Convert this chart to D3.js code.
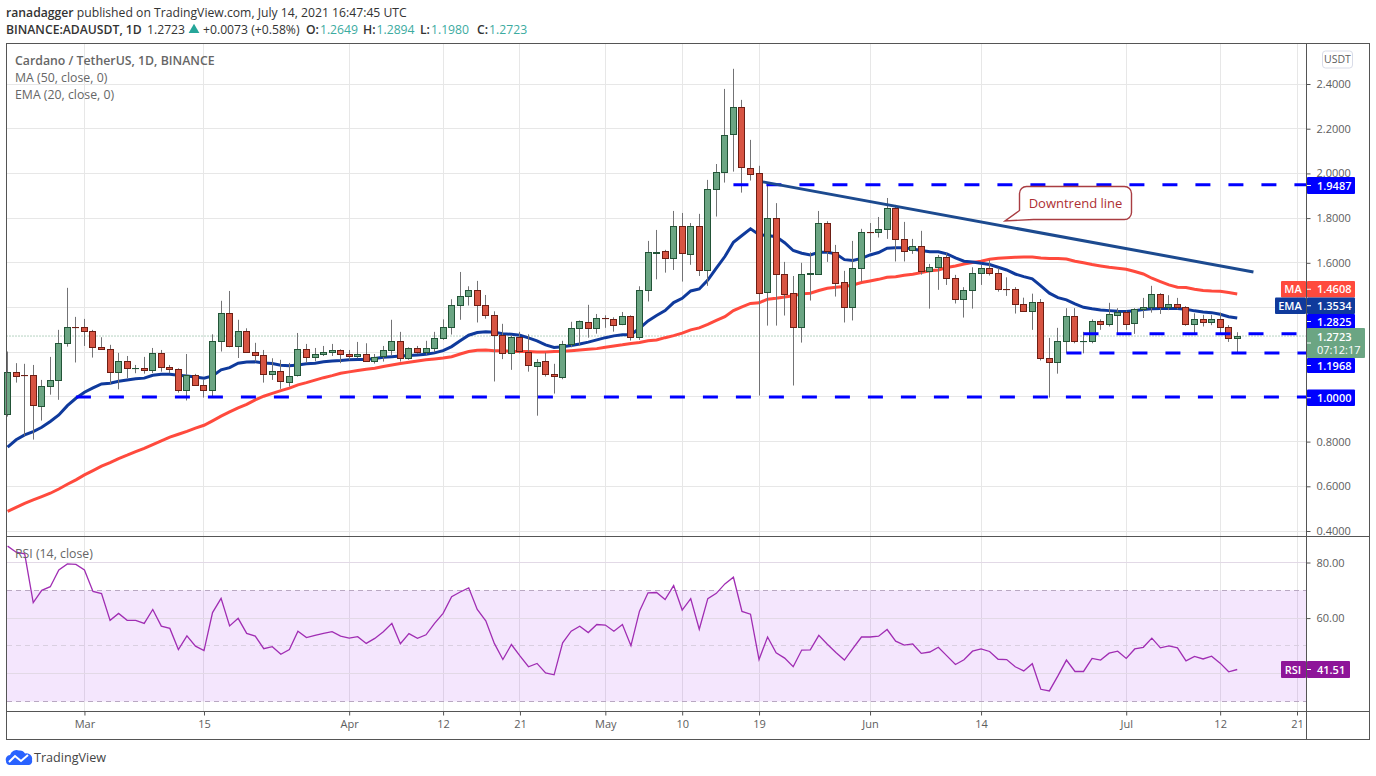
<!DOCTYPE html>
<html>
<head>
<meta charset="utf-8">
<script src="https://cdn.jsdelivr.net/npm/d3@7"></script>
<style>
  html, body { margin: 0; background: #fff; }
  svg { display: block; }
  text { font-family: "Open Sans", sans-serif; }
</style>
</head>
<body>
<svg id="chart" width="1376" height="776"></svg>
<script>
// daily candles, first one is Feb 20 2021, last one Jul 14 2021
const firstDay = "2021-02-20";
const opens = [0.927,1.113,1.097,1.097,0.958,1.048,1.075,1.240,1.312,1.312,1.294,1.222,1.213,1.109,1.160,1.128,1.128,1.119,1.195,1.133,
  1.124,1.030,1.097,1.052,1.030,1.249,1.374,1.227,1.294,1.200,1.186,1.101,1.115,1.066,1.097,1.213,1.177,1.189,1.200,1.209,
  1.191,1.180,1.191,1.160,1.180,1.209,1.249,1.173,1.218,1.200,1.218,1.262,1.312,1.410,1.450,1.477,1.410,1.365,1.276,1.195,
  1.267,1.200,1.142,1.160,1.101,1.087,1.236,1.307,1.334,1.307,1.352,1.350,1.325,1.361,1.267,1.477,1.647,1.652,1.620,1.764,
  1.637,1.764,1.565,1.929,2.005,2.174,2.296,2.026,2.001,1.468,1.799,1.549,1.464,1.312,1.549,1.549,1.777,1.650,1.513,1.401,
  1.576,1.737,1.737,1.750,1.844,1.705,1.656,1.674,1.562,1.580,1.625,1.531,1.437,1.477,1.553,1.576,1.553,1.482,1.482,1.415,
  1.383,1.424,1.173,1.155,1.249,1.361,1.249,1.249,1.339,1.325,1.370,1.382,1.330,1.392,1.400,1.459,1.401,1.415,1.401,1.325,
  1.347,1.334,1.347,1.312,1.2649];
const highs = [1.203,1.151,1.148,1.143,1.076,1.179,1.300,1.488,1.358,1.349,1.300,1.267,1.233,1.197,1.183,1.143,1.179,1.219,1.210,1.143,
  1.128,1.192,1.103,1.079,1.280,1.430,1.474,1.345,1.307,1.242,1.210,1.173,1.166,1.152,1.286,1.237,1.219,1.228,1.237,1.213,
  1.210,1.246,1.240,1.192,1.228,1.345,1.291,1.222,1.228,1.251,1.291,1.347,1.437,1.559,1.495,1.519,1.456,1.383,1.327,1.276,
  1.291,1.280,1.169,1.198,1.148,1.251,1.336,1.342,1.412,1.371,1.365,1.356,1.380,1.365,1.495,1.698,1.747,1.658,1.832,1.823,
  1.778,1.819,1.971,2.042,2.378,2.468,2.329,2.150,2.034,1.956,1.867,1.604,1.541,1.600,1.647,1.832,1.786,1.680,1.564,1.698,
  1.752,1.778,1.805,1.890,1.859,1.783,1.707,1.743,1.595,1.635,1.643,1.546,1.491,1.580,1.591,1.613,1.576,1.535,1.491,1.444,
  1.462,1.438,1.264,1.309,1.397,1.397,1.291,1.347,1.347,1.421,1.397,1.386,1.397,1.443,1.497,1.464,1.455,1.443,1.406,1.374,
  1.367,1.367,1.377,1.321,1.2894];
const lows = [0.912,1.064,0.826,0.809,0.894,1.010,0.987,1.225,1.154,1.228,1.176,1.210,1.058,1.034,1.084,1.106,1.104,1.107,1.113,1.106,
  1.019,0.984,1.049,0.997,0.997,1.203,1.222,1.174,1.200,1.158,1.064,1.076,1.036,1.046,1.091,1.151,1.160,1.183,1.183,1.151,
  1.166,1.173,1.158,1.149,1.158,1.185,1.158,1.166,1.192,1.188,1.200,1.255,1.279,1.345,1.409,1.333,1.350,1.069,1.169,1.121,
  1.195,1.113,0.916,1.091,1.015,1.079,1.222,1.230,1.265,1.283,1.309,1.292,1.321,1.252,1.255,1.427,1.526,1.556,1.568,1.516,
  1.591,1.541,1.497,1.807,1.959,2.008,1.914,1.968,1.006,1.319,1.319,1.364,1.051,1.243,1.431,1.546,1.604,1.449,1.333,1.342,
  1.516,1.649,1.713,1.707,1.606,1.606,1.640,1.547,1.395,1.479,1.501,1.418,1.355,1.395,1.501,1.543,1.471,1.452,1.373,1.382,
  1.300,1.163,0.997,1.104,1.195,1.240,1.195,1.240,1.300,1.315,1.282,1.300,1.282,1.353,1.377,1.371,1.388,1.392,1.318,1.282,
  1.315,1.321,1.285,1.246,1.1980];
const closes = [1.113,1.097,1.095,0.963,1.048,1.075,1.240,1.312,1.310,1.294,1.222,1.213,1.109,1.160,1.128,1.130,1.119,1.195,1.133,1.124,
  1.030,1.097,1.052,1.030,1.249,1.374,1.227,1.294,1.200,1.186,1.101,1.115,1.070,1.092,1.213,1.177,1.191,1.200,1.209,1.191,
  1.180,1.191,1.160,1.180,1.209,1.249,1.173,1.218,1.200,1.218,1.262,1.312,1.410,1.450,1.477,1.410,1.365,1.276,1.195,1.267,
  1.204,1.142,1.158,1.101,1.092,1.236,1.307,1.339,1.307,1.352,1.350,1.325,1.361,1.268,1.477,1.647,1.650,1.619,1.764,1.643,
  1.764,1.565,1.929,2.005,2.171,2.296,2.026,2.001,1.464,1.799,1.549,1.459,1.312,1.549,1.553,1.777,1.650,1.513,1.401,1.576,
  1.737,1.735,1.750,1.844,1.705,1.652,1.674,1.562,1.580,1.625,1.531,1.437,1.477,1.553,1.576,1.553,1.482,1.480,1.415,1.383,
  1.424,1.173,1.155,1.249,1.361,1.249,1.251,1.339,1.325,1.370,1.382,1.330,1.392,1.401,1.459,1.400,1.415,1.401,1.327,1.347,
  1.334,1.347,1.312,1.262,1.2723];

const ema20 = [0.775,0.808,0.830,0.845,0.864,0.890,0.919,0.961,0.994,1.021,1.040,1.058,1.061,1.070,1.076,1.081,1.084,1.097,1.101,1.101,
  1.097,1.094,1.089,1.084,1.094,1.121,1.131,1.151,1.156,1.157,1.152,1.149,1.142,1.139,1.143,1.148,1.151,1.157,1.161,1.163,
  1.166,1.167,1.167,1.172,1.177,1.180,1.183,1.185,1.188,1.191,1.197,1.207,1.225,1.251,1.276,1.288,1.292,1.289,1.283,1.280,
  1.276,1.264,1.251,1.233,1.221,1.224,1.230,1.237,1.245,1.255,1.265,1.273,1.278,1.278,1.307,1.340,1.364,1.386,1.422,1.441,
  1.474,1.483,1.523,1.576,1.628,1.692,1.722,1.752,1.726,1.722,1.717,1.690,1.655,1.643,1.635,1.647,1.647,1.640,1.614,1.610,
  1.620,1.635,1.646,1.665,1.667,1.667,1.662,1.655,1.649,1.649,1.640,1.622,1.607,1.604,1.598,1.592,1.580,1.568,1.550,1.538,
  1.528,1.497,1.464,1.444,1.434,1.416,1.401,1.394,1.389,1.386,1.383,1.382,1.385,1.391,1.394,1.395,1.395,1.395,1.392,1.385,
  1.380,1.377,1.370,1.359,1.3534];
const ma50 = [0.488,0.506,0.524,0.539,0.554,0.569,0.588,0.609,0.629,0.651,0.670,0.690,0.706,0.724,0.739,0.755,0.770,0.787,0.803,0.820,
  0.833,0.846,0.860,0.873,0.893,0.914,0.933,0.951,0.967,0.987,1.003,1.016,1.028,1.039,1.054,1.064,1.075,1.086,1.095,1.106,
  1.112,1.118,1.124,1.128,1.136,1.143,1.149,1.155,1.161,1.166,1.170,1.174,1.180,1.192,1.203,1.209,1.210,1.207,1.206,1.204,
  1.203,1.203,1.201,1.201,1.203,1.204,1.207,1.210,1.213,1.216,1.222,1.228,1.233,1.239,1.243,1.251,1.255,1.265,1.274,1.285,
  1.300,1.309,1.325,1.342,1.359,1.386,1.403,1.418,1.421,1.437,1.441,1.447,1.453,1.461,1.464,1.476,1.486,1.491,1.494,1.501,
  1.512,1.519,1.526,1.535,1.538,1.544,1.549,1.556,1.564,1.568,1.579,1.586,1.595,1.601,1.607,1.616,1.620,1.623,1.625,1.626,
  1.626,1.622,1.619,1.619,1.617,1.607,1.600,1.592,1.586,1.580,1.576,1.571,1.561,1.550,1.531,1.516,1.501,1.491,1.489,1.482,
  1.476,1.474,1.473,1.467,1.4608];
const rsi14 = [85.9,83.7,83.1,65.6,70.0,71.3,77.3,79.5,79.3,77.3,69.6,68.8,59.2,61.7,59.2,59.2,58.1,63.1,57.1,56.3,
  48.7,53.6,49.9,48.3,62.0,67.1,57.2,59.9,54.5,53.5,49.0,49.7,47.0,48.7,55.3,53.0,53.8,54.5,55.1,53.5,
  52.8,53.3,50.9,52.7,55.1,58.1,50.8,54.4,52.7,54.0,58.1,61.7,67.7,69.4,70.9,63.1,59.0,50.9,45.1,50.5,
  46.4,42.5,43.7,40.3,39.6,51.1,55.3,57.1,54.8,57.7,57.5,55.3,57.7,50.1,62.5,69.1,69.2,66.7,71.7,62.9,
  67.0,56.0,67.0,68.9,72.3,74.7,62.4,61.4,45.1,53.2,47.5,45.6,42.5,48.5,48.6,53.8,50.6,47.6,44.9,49.1,
  53.2,53.2,53.5,55.9,51.7,50.3,50.7,47.3,47.8,49.5,46.4,43.3,45.0,48.1,48.9,48.0,45.2,45.1,42.5,41.0,
  43.6,34.4,33.8,39.2,44.9,40.8,40.8,45.5,44.9,47.4,48.1,45.5,48.9,49.5,52.8,49.3,50.0,49.3,44.6,46.2,
  45.3,46.3,43.8,40.7,41.51];

const priceTicks = [0.4,0.6,0.8,1.0,1.2,1.4,1.6,1.8,2.0,2.2,2.4];
// these tick labels sit behind the price tags in the reference
const hiddenPriceLabels = [1.0,1.2,1.4];
const rsiTicks = [40,60,80];
const rsiBands = [30,50,70];
const dateTicks = ["2021-03-01","2021-03-15","2021-04-01","2021-04-12","2021-04-21","2021-05-01","2021-05-10","2021-05-19","2021-06-01","2021-06-14","2021-07-01","2021-07-12","2021-07-21"];
const dateLabels = ["Mar","15","Apr","12","21","May","10","19","Jun","14","Jul","12","21"];

// horizontal drawings, level + the candle where it starts
const levels = [1.9487,1.2825,1.1968,1.0];
const levelStarts = [85,126,124,8];
const trendDays = [88.45,145.9];
const trendPrices = [1.962,1.559];

const svg = d3.select("#chart");
const frameColor = "#555";
const gridColor = "#e7e7e7";
const axisText = "#5d5d5d";
const up = "#6ba583", upEdge = "#225437", down = "#d75442", downEdge = "#6d1e14", wick = "#737375";

const paneLeft = 6.5, paneRight = 1306.5, outerRight = 1369.5, paneTop = 43.5, split = 536.5, rsiBottom = 711.5, frameBottom = 739.5;

const parseDay = d3.utcParse("%Y-%m-%d");
const start = parseDay(firstDay);
const x = d3.scaleUtc().domain([start, parseDay("2021-07-21")]).range([7.6, 1297]);
const xAt = (i) => x(new Date(+start + i * 864e5));
const y = d3.scaleLinear().domain([0.4, 2.4]).range([531, 84]);
const yRsi = d3.scaleLinear().domain([30, 80]).range([701.5, 562.5]);

// grid
const grid = svg.append("g").attr("stroke", gridColor).attr("shape-rendering", "crispEdges");
grid.selectAll(".v").data(dateTicks).enter().append("line")
  .attr("x1", (d) => x(parseDay(d))).attr("x2", (d) => x(parseDay(d)))
  .attr("y1", paneTop).attr("y2", rsiBottom);
grid.selectAll(".h").data(priceTicks).enter().append("line")
  .attr("x1", paneLeft).attr("x2", paneRight).attr("y1", (d) => y(d)).attr("y2", (d) => y(d));

// rsi pane background
svg.append("rect")
  .attr("x", paneLeft).attr("width", paneRight - paneLeft)
  .attr("y", yRsi(70)).attr("height", yRsi(30) - yRsi(70))
  .attr("fill", "#9105eb").attr("fill-opacity", 0.1);
svg.append("g").attr("stroke", "#e2d9e6").attr("shape-rendering", "crispEdges")
  .selectAll("line").data(rsiTicks).enter().append("line")
  .attr("x1", paneLeft).attr("x2", paneRight).attr("y1", (d) => yRsi(d)).attr("y2", (d) => yRsi(d));
svg.append("g").attr("fill", "none")
  .selectAll("line").data(rsiBands).enter().append("line")
  .attr("x1", paneLeft).attr("x2", paneRight).attr("y1", (d) => yRsi(d)).attr("y2", (d) => yRsi(d))
  .attr("stroke", (d) => d === 50 ? "#d9cfe0" : "#b9a8c2")
  .attr("stroke-dasharray", "5 4").attr("shape-rendering", "crispEdges");

// last price dotted line
svg.append("line")
  .attr("x1", paneLeft).attr("x2", paneRight).attr("y1", y(closes[144])).attr("y2", y(closes[144]))
  .attr("stroke", up).attr("stroke-width", 1).attr("stroke-dasharray", "1 2");

// moving averages go under the candles
const line = (values, scale) => d3.line().x((d, i) => xAt(i)).y((d) => scale(d))(values);
svg.append("path").attr("d", line(ma50, y)).attr("fill", "none").attr("stroke", "#ff4a3d").attr("stroke-width", 3);
svg.append("path").attr("d", line(ema20, y)).attr("fill", "none").attr("stroke", "#0f3a9c").attr("stroke-width", 3);

// candles
const candles = svg.append("g").selectAll("g").data(opens).enter().append("g");
candles.append("line")
  .attr("x1", (d, i) => Math.floor(xAt(i)) + 0.5).attr("x2", (d, i) => Math.floor(xAt(i)) + 0.5)
  .attr("y1", (d, i) => y(highs[i])).attr("y2", (d, i) => y(lows[i]))
  .attr("stroke", wick).attr("stroke-width", 1);
candles.append("rect")
  .attr("x", (d, i) => Math.floor(xAt(i)) - 2.5)
  .attr("width", 6)
  .attr("y", (d, i) => Math.round(y(Math.max(d, closes[i]))) + 0.5)
  .attr("height", (d, i) => Math.max(0.1, Math.round(Math.abs(y(d) - y(closes[i])))))
  .attr("fill", (d, i) => closes[i] >= d ? up : down)
  .attr("stroke", (d, i) => closes[i] >= d ? upEdge : downEdge)
  .attr("stroke-width", 1);

// support / resistance dashes
svg.append("g").selectAll("line").data(levels).enter().append("line")
  .attr("x1", (d, i) => xAt(levelStarts[i])).attr("x2", paneRight)
  .attr("y1", (d) => y(d)).attr("y2", (d) => y(d))
  .attr("stroke", "#0000ff").attr("stroke-width", 3).attr("stroke-dasharray", "15 18");

// downtrend line and its callout
svg.append("line")
  .attr("x1", xAt(trendDays[0])).attr("x2", xAt(trendDays[1]))
  .attr("y1", y(trendPrices[0])).attr("y2", y(trendPrices[1]))
  .attr("stroke", "#1c4a8f").attr("stroke-width", 3);

const bx = 1019.5, by = 186.5, bw = 112, bh = 33, r = 7;
svg.append("path")
  .attr("d", `M${bx + r},${by} h${bw - 2 * r} a${r},${r} 0 0 1 ${r},${r} v${bh - 2 * r} a${r},${r} 0 0 1 -${r},${r} H${bx + 14} L1005,221 L${bx},${by + 24} V${by + r} a${r},${r} 0 0 1 ${r},-${r} Z`)
  .attr("fill", "#fff").attr("stroke", "#a93d42").attr("stroke-width", 1.4);
svg.append("text").attr("x", bx + bw / 2).attr("y", by + 21).attr("text-anchor", "middle")
  .attr("fill", "#ad2f33").attr("font-size", 13).text("Downtrend line");

// rsi line
svg.append("path").attr("d", line(rsi14, yRsi)).attr("fill", "none").attr("stroke", "#a02db3").attr("stroke-width", 1.3);

// frame
const frame = svg.append("g").attr("stroke", frameColor).attr("shape-rendering", "crispEdges");
frame.append("rect").attr("x", paneLeft).attr("y", paneTop).attr("width", outerRight - paneLeft).attr("height", frameBottom - paneTop).attr("fill", "none");
[[paneLeft, outerRight, split, split], [paneLeft, outerRight, rsiBottom, rsiBottom], [paneRight, paneRight, paneTop, frameBottom]].forEach(([a, b, c, e]) => {
  frame.append("line").attr("x1", a).attr("x2", b).attr("y1", c).attr("y2", e);
});

// axes
function styleAxis(g) {
  g.select(".domain").remove();
  g.selectAll(".tick line").attr("stroke", frameColor);
  g.selectAll(".tick text").attr("fill", axisText).attr("font-size", 11).style("font-family", '"Open Sans", sans-serif');
}
svg.append("g").attr("transform", `translate(${paneRight},0)`)
  .call(d3.axisRight(y).tickValues(priceTicks)
    .tickFormat((d) => hiddenPriceLabels.includes(d) ? "" : d3.format(".4f")(d))
    .tickSize(4).tickPadding(6))
  .call(styleAxis);
svg.append("g").attr("transform", `translate(${paneRight},0)`)
  .call(d3.axisRight(yRsi).tickValues(rsiTicks)
    .tickFormat((d) => d === 40 ? "" : d3.format(".2f")(d))
    .tickSize(4).tickPadding(6))
  .call(styleAxis);
svg.append("g").attr("transform", `translate(0,${rsiBottom})`)
  .call(d3.axisBottom(x).tickValues(dateTicks.map(parseDay)).tickFormat((d, i) => dateLabels[i]).tickSize(4).tickPadding(5))
  .call(styleAxis);

// price labels on the right hand axis
function axisLabel(labelTop, height, color, txt, wide) {
  const g = svg.append("g");
  g.append("rect").attr("x", 1307).attr("y", labelTop).attr("width", wide || 48).attr("height", height).attr("rx", 1).attr("fill", color);
  g.append("line").attr("x1", 1307).attr("x2", 1311).attr("y1", labelTop + height / 2).attr("y2", labelTop + height / 2).attr("stroke", "#fff");
  g.append("text").attr("x", 1317).attr("y", labelTop + height / 2 + 4).attr("fill", "#fff")
    .attr("font-size", 11).attr("font-weight", 600).text(txt);
}
function sideTag(labelTop, height, x0, color, txt) {
  svg.append("rect").attr("x", x0).attr("y", labelTop).attr("width", 1306 - x0).attr("height", height).attr("rx", 1).attr("fill", color);
  svg.append("text").attr("x", (x0 + 1305) / 2).attr("y", labelTop + height / 2 + 4).attr("text-anchor", "middle")
    .attr("fill", "#fff").attr("font-size", 11).attr("font-weight", 600).text(txt);
}
axisLabel(177, 17, "#0000ff", "1.9487");
axisLabel(281, 16.5, "#ff4a3d", "1.4608");
sideTag(281, 16.5, 1281, "#ff4a3d", "MA");
axisLabel(297.5, 16.5, "#0f3a9c", "1.3534");
sideTag(297.5, 16.5, 1275, "#0f3a9c", "EMA");
axisLabel(314, 15, "#0000ff", "1.2825");
axisLabel(358, 15, "#0000ff", "1.1968");
axisLabel(389.5, 16.5, "#0000ff", "1.0000");
axisLabel(328, 30, up, "", 58);
svg.append("text").attr("x", 1317).attr("y", 341).attr("fill", "#fff").attr("font-size", 11).attr("font-weight", 600).text("1.2723");
svg.append("text").attr("x", 1317).attr("y", 354).attr("fill", "#fff").attr("font-size", 11).text("07:12:17");
axisLabel(661, 17, "#8e1599", "41.51", 43);
sideTag(661, 17, 1281, "#8e1599", "RSI");

// USDT badge
svg.append("rect").attr("x", 1322.5).attr("y", 51).attr("width", 30).attr("height", 17).attr("rx", 3)
  .attr("fill", "#fff").attr("stroke", "#d9dce8");
svg.append("text").attr("x", 1337.5).attr("y", 63).attr("text-anchor", "middle").attr("fill", axisText).attr("font-size", 10.5).text("USDT");

// pane legends
const legend = svg.append("g").attr("fill", "#666").attr("font-size", 12.3);
legend.append("text").attr("x", 15).attr("y", 65).attr("font-weight", 600).text("Cardano / TetherUS, 1D, BINANCE");
legend.append("text").attr("x", 15).attr("y", 82).text("MA (50, close, 0)");
legend.append("text").attr("x", 15).attr("y", 99).text("EMA (20, close, 0)");
legend.append("text").attr("x", 15).attr("y", 558).text("RSI (14, close)");

// header
const head = svg.append("g").attr("fill", "#333").attr("font-size", 12.2);
const h1 = head.append("text").attr("x", 6).attr("y", 17);
h1.append("tspan").attr("font-weight", 600).text("ranadagger");
h1.append("tspan").text(" published on TradingView.com, July 14, 2021 16:47:45 UTC");
const h2 = head.append("text").attr("x", 6).attr("y", 34);
h2.append("tspan").attr("font-weight", 600).text("BINANCE:ADAUSDT, 1D");
h2.append("tspan").attr("x", 147).text("1.2723");
head.append("path").attr("d", d3.symbol(d3.symbolTriangle, 50)()).attr("transform", "translate(194,30)").attr("fill", "#26a69a");
h2.append("tspan").attr("x", 203).text("+0.0073 (+0.58%)");
const ohlc = [["O:", "1.2649"], ["H:", "1.2894"], ["L:", "1.1980"], ["C:", "1.2723"]];
ohlc.forEach(([k, v], i) => {
  h2.append("tspan").attr("x", 306 + i * 57).attr("font-weight", 600).text(k);
  h2.append("tspan").attr("dx", 1).attr("fill", "#3cab9f").text(v);
});

// logo
svg.append("path")
  .attr("d", "M6,761 a4.5,4.5 0 0 1 4,-6 a7,7 0 0 1 9,-4.5 a6,6 0 0 1 6,3 a5.5,5.5 0 0 1 7,6.5 a4,4 0 0 1 -3,5 H9 a4,4 0 0 1 -3,-4 Z")
  .attr("fill", "#2962ff");
svg.append("path").attr("d", "M9,762 L15,756 L21,761 L28,755").attr("fill", "none").attr("stroke", "#fff").attr("stroke-width", 2);
svg.append("text").attr("x", 34).attr("y", 762).attr("fill", "#444").attr("font-size", 12.6).text("TradingView");
</script>
</body>
</html>
